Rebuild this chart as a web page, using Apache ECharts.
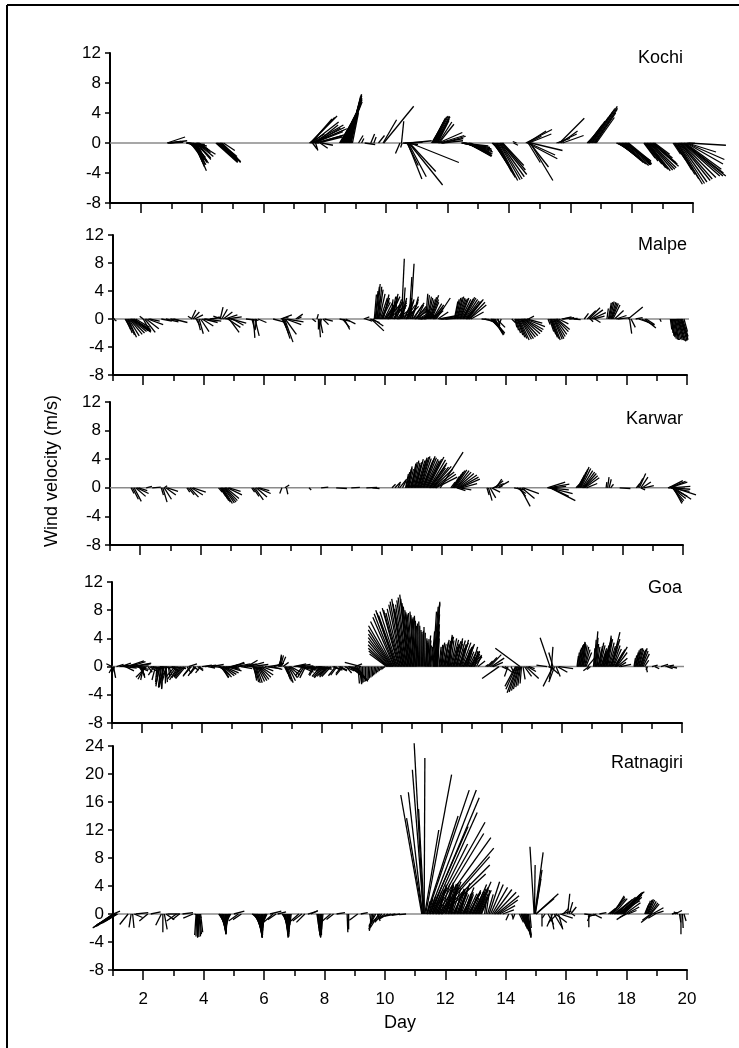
<!DOCTYPE html>
<html>
<head>
<meta charset="utf-8">
<script src="https://cdn.jsdelivr.net/npm/echarts@6/dist/echarts.min.js"></script>
<style>html,body{margin:0;padding:0;background:#fff}#c{width:739px;height:1048px}</style>
</head>
<body>
<div id="c"></div>
<script>
// ---- data: each stick = [day, u (east, m/s), v (north, m/s)] ----
const stations = ['Kochi', 'Malpe', 'Karwar', 'Goa', 'Ratnagiri'];
const evenDays = [2, 4, 6, 8, 10, 12, 14, 16, 18, 20];
const oddDays = [1, 3, 5, 7, 9, 11, 13, 15, 17, 19];

const kochi = [
[2.86,2.4,0.8],[2.88,2.6,0.3],[2.9,2.0,0.1],[2.95,1.5,0.2],
[3.48,2.5,-0.2],[3.5,2.3,-0.5],[3.52,2.6,-0.4],[3.55,2.2,-0.7],[3.57,1.9,-1.0],[3.58,1.6,-1.2],[3.6,1.8,-1.6],[3.62,2.0,-1.9],[3.63,1.5,-2.0],[3.66,1.7,-2.3],[3.68,1.4,-2.1],[3.7,1.9,-2.6],[3.71,1.7,-2.9],[3.72,1.2,-2.5],[3.74,1.4,-3.2],[3.75,1.6,-3.7],[3.77,1.8,-2.7],[3.78,1.3,-2.9],[3.79,1.5,-2.4],[3.8,2.0,-2.2],[3.82,1.9,-2.0],[3.83,2.2,-1.8],[3.85,2.4,-1.5],[3.86,1.7,-1.3],[3.88,1.5,-1.0],[3.9,1.2,-0.8],
[4.45,2.9,-2.6],[4.48,2.8,-2.5],[4.5,2.7,-2.4],[4.52,2.6,-2.3],[4.55,2.4,-2.1],[4.58,2.3,-2.0],[4.6,2.2,-1.8],[4.62,2.6,-2.6],[4.65,2.5,-2.5],[4.7,1.5,-1.0],
[7.5,2.0,1.2],[7.52,3.6,3.6],[7.54,3.2,3.4],[7.55,2.8,3.2],[7.57,3.6,2.8],[7.58,4.2,2.4],[7.6,4.3,2.1],[7.62,4.5,1.9],[7.64,4.0,1.7],[7.66,3.8,1.5],[7.68,3.4,2.0],[7.7,3.0,2.4],[7.72,3.6,1.0],[7.74,4.0,1.2],[7.78,3.2,0.8],[7.6,0.6,-0.8],[7.7,0.3,-1.0],[7.85,1.0,-0.7],[7.9,1.5,-0.3],
[8.48,1.2,2.0],[8.5,1.4,2.5],[8.52,1.6,3.0],[8.54,1.7,3.4],[8.56,1.8,3.8],[8.58,1.9,4.1],[8.6,2.0,4.4],[8.62,2.0,4.7],[8.64,2.1,5.0],[8.66,2.1,5.2],[8.68,2.2,5.5],[8.7,2.1,5.8],[8.72,2.0,6.0],[8.74,1.9,6.3],[8.76,1.8,6.5],[8.78,1.7,6.4],[8.8,1.5,6.2],[8.82,1.4,5.7],[8.84,1.2,5.2],[8.86,1.0,4.6],[8.9,0.8,4.0],
[9.1,0.6,1.0],[9.2,0.3,0.6],[9.3,1.4,-0.2],[9.5,0.5,1.2],[9.6,0.3,0.8],[9.75,0.8,1.0],
[9.9,1.8,3.1],[9.92,4.0,4.9],
[10.45,-0.6,-1.4],[10.5,0.3,2.9],[10.52,-0.2,-0.6],[10.55,2.0,-0.2],[10.6,2.4,0.1],
[10.68,1.5,-3.0],[10.7,1.9,-4.8],[10.72,2.4,-4.5],[10.74,4.5,-5.6],[10.76,3.5,-3.8],[10.78,6.5,-2.6],[10.8,2.8,0.3],
[11.48,1.2,2.0],[11.5,1.3,2.4],[11.52,1.4,2.8],[11.54,1.5,3.1],[11.56,1.5,3.3],[11.58,1.6,3.5],[11.6,1.7,3.6],[11.62,1.8,3.6],[11.64,1.8,3.5],[11.66,1.6,3.2],[11.68,1.5,3.0],[11.7,1.8,2.8],[11.72,2.0,2.5],
[11.7,3.2,1.4],[11.74,3.3,1.0],[11.78,3.0,0.6],[11.82,2.8,0.3],[11.86,3.0,0.9],
[12.45,3.6,-0.4],[12.48,3.7,-0.6],[12.5,3.8,-0.8],[12.52,3.8,-1.0],[12.55,3.8,-1.2],[12.58,3.6,-1.4],[12.6,3.5,-1.5],[12.62,3.4,-1.7],[12.65,3.2,-1.8],[12.68,3.0,-1.7],[12.7,2.9,-1.6],[12.72,2.7,-1.4],[12.75,2.5,-1.2],
[13.45,1.2,-1.0],[13.48,1.4,-1.8],[13.5,1.6,-2.4],[13.52,1.8,-2.9],[13.55,2.0,-3.4],[13.58,2.1,-3.9],[13.6,2.3,-4.3],[13.62,2.4,-4.6],[13.65,2.6,-5.0],[13.68,2.8,-4.9],[13.7,3.0,-4.8],[13.72,3.2,-4.5],[13.75,3.4,-4.2],[13.78,3.1,-3.6],[13.8,2.8,-3.0],
[14.15,0.6,-0.3],[14.25,-0.5,0.2],
[14.55,3.5,1.8],[14.6,2.5,1.6],[14.65,3.0,1.2],[14.62,1.8,0.9],[14.6,4.0,-2.1],[14.65,3.5,-1.6],[14.7,3.0,-5.0],[14.68,2.5,-3.2],[14.72,4.2,-1.0],[14.63,1.6,-2.6],
[15.55,1.8,0.6],[15.6,2.5,1.2],[15.65,3.3,3.3],[15.7,2.2,1.6],[15.75,2.8,1.0],
[16.55,1.0,1.0],[16.58,1.4,1.7],[16.6,1.8,2.4],[16.62,2.1,2.9],[16.65,2.4,3.4],[16.68,2.6,3.8],[16.7,2.8,4.2],[16.72,3.0,4.6],[16.75,3.2,4.9],[16.78,3.1,4.7],[16.8,3.0,4.5],[16.82,2.7,4.0],[16.85,2.4,3.4],
[17.5,1.0,-0.4],[17.52,1.5,-0.8],[17.55,2.0,-1.3],[17.58,2.3,-1.7],[17.6,2.6,-2.0],[17.62,2.8,-2.3],[17.65,3.0,-2.6],[17.68,3.2,-2.8],[17.7,3.5,-3.0],[17.72,3.6,-2.9],[17.75,3.7,-2.8],[17.78,3.5,-2.6],[17.8,3.4,-2.4],[17.82,3.3,-2.7],[17.85,3.2,-2.9],[17.88,3.0,-2.6],[17.9,2.8,-2.3],
[18.4,1.5,-2.0],[18.42,1.8,-2.4],[18.45,2.2,-2.8],[18.48,2.4,-3.0],[18.5,2.5,-3.3],[18.52,2.7,-3.5],[18.55,2.9,-3.7],[18.58,3.1,-3.6],[18.6,3.3,-3.5],[18.62,3.4,-3.3],[18.65,3.6,-3.1],[18.68,3.3,-2.8],[18.7,3.0,-2.6],[18.72,2.5,-2.0],[18.75,2.0,-1.5],
[19.35,1.0,-1.5],[19.38,1.5,-2.2],[19.4,2.0,-3.0],[19.42,2.2,-3.6],[19.45,2.5,-4.2],[19.48,2.9,-4.8],[19.5,3.3,-5.5],[19.52,3.5,-5.4],[19.55,3.7,-5.2],[19.58,4.0,-5.0],[19.6,4.2,-4.8],[19.62,4.6,-4.6],[19.65,5.0,-4.4],[19.68,5.3,-4.4],[19.7,5.6,-4.4],[19.72,5.2,-4.0],[19.75,4.8,-3.5],[19.78,4.9,-2.8],[19.8,5.0,-2.2],[19.82,3.8,-1.2],[19.85,5.0,-0.3]
];

const malpe = [
[1.02,0.4,-0.3],[1.05,-0.3,0.2],
[1.4,0.6,-1.0],[1.42,0.7,-1.5],[1.45,0.8,-2.0],[1.48,1.0,-2.3],[1.5,1.2,-2.6],[1.52,1.5,-2.4],[1.55,1.8,-2.2],[1.58,2.0,-2.0],[1.6,2.2,-1.8],[1.62,2.4,-1.7],[1.65,2.6,-1.5],[1.68,2.5,-1.7],[1.7,2.4,-1.9],[1.75,2.0,-1.2],
[2.0,1.0,-1.8],[2.05,1.5,-1.9],[2.1,1.8,-1.4],[2.15,2.2,-0.8],[2.0,-0.5,0.4],[2.2,1.5,-0.3],
[2.6,1.5,-0.3],[2.75,1.8,-0.4],[2.9,1.2,-0.2],[3.0,2.0,-0.5],
[3.6,0.6,1.3],[3.65,0.9,1.0],[3.7,1.2,0.6],[3.62,-0.6,0.4],[3.75,0.5,-0.9],[3.8,0.4,-1.6],[3.85,0.6,-2.1],[3.9,1.2,-1.8],[3.95,1.6,-1.0],[4.0,2.0,-0.5],[4.05,2.3,-0.3],
[4.2,1.5,0.2],[4.3,1.0,0.3],
[4.55,0.4,1.7],[4.6,0.8,1.4],[4.65,1.3,1.0],[4.7,1.8,0.6],[4.75,2.2,0.3],[4.6,-1.2,0.4],[4.8,1.8,-1.2],[4.85,1.4,-1.9],[4.9,2.2,-0.6],[4.95,1.6,-0.9],
[5.4,1.8,-0.2],[5.6,0.4,-1.5],[5.65,0.2,-2.7],[5.7,0.6,-2.4],[5.75,-0.2,-1.6],[5.8,1.2,-0.5],
[6.3,1.5,-0.4],[6.55,1.6,0.6],[6.58,1.0,0.3],[6.6,0.6,-1.2],[6.62,0.8,-2.0],[6.65,0.9,-2.8],[6.68,1.2,-3.3],[6.7,1.6,-2.2],[6.72,2.2,-0.8],[6.75,2.4,-0.4],
[7.05,1.0,0.7],[7.1,0.6,0.3],
[7.6,0.5,-0.4],[7.75,0.2,0.7],[7.8,0.0,-1.5],[7.82,0.2,-2.6],[7.85,0.4,-2.0],[7.9,-0.3,-1.2],[7.95,0.8,-0.8],[8.0,1.2,-0.3],
[8.5,1.5,-0.3],[8.6,1.0,-1.2],[8.65,0.8,-1.5],[8.7,1.4,-0.7],
[9.3,0.8,0.3],[9.35,1.0,-0.3],
[9.5,1.4,-0.5],[9.55,1.8,-1.7],[9.6,1.5,-1.0],
[9.65,0.3,3.5],[9.68,0.4,4.0],[9.7,0.5,4.6],[9.72,0.6,3.2],[9.75,0.4,5.0],[9.78,0.5,4.6],[9.8,0.6,4.2],[9.82,0.8,3.6],[9.85,1.0,3.0],[9.88,1.1,2.6],[9.9,1.2,2.4],[9.92,1.0,3.0],[9.95,0.8,3.5],[9.98,1.2,2.4],[10.0,1.3,2.0],[10.02,1.5,2.2],[10.05,1.6,2.6],[10.08,1.8,2.0],[10.1,2.0,1.5],[10.12,1.2,2.8],[10.15,1.5,3.2],[10.18,1.0,3.0],[10.2,0.3,2.8],[10.22,0.6,3.2],[10.25,0.8,3.6],[10.28,1.4,2.6],[10.3,1.8,2.3],[10.32,1.0,2.8],[10.35,0.2,3.2],[10.38,0.8,2.4],[10.4,1.2,1.6],[10.42,1.8,1.4],[10.45,2.4,1.2],[10.48,1.0,2.0],[10.5,0.5,2.4],[10.52,0.8,2.6],[10.55,0.4,8.6],[10.58,0.6,3.0],[10.6,0.3,4.5],[10.62,1.2,2.2],[10.65,1.0,2.5],[10.68,1.4,2.0],[10.7,1.8,1.8],[10.72,1.0,2.6],[10.75,0.6,3.0],[10.78,0.8,2.8],[10.8,0.4,6.0],[10.82,1.2,2.4],[10.85,0.5,7.9],[10.88,1.0,2.8],[10.9,0.9,3.2],[10.92,1.4,2.0],[10.95,1.5,2.3],[10.98,1.8,1.6],[11.0,2.2,1.4],[11.02,1.5,1.8],[11.05,1.0,2.0],[11.08,1.4,1.4],[11.1,1.8,1.0],[11.12,2.0,0.8],[11.15,2.5,0.6],[11.2,2.0,0.4],[11.25,1.2,0.8],[11.3,1.5,0.3],
[11.35,0.3,3.6],[11.38,0.4,3.4],[11.4,0.6,3.2],[11.42,0.7,3.0],[11.45,0.8,2.8],[11.48,1.0,3.1],[11.5,1.2,3.4],[11.52,1.1,2.8],[11.55,1.0,2.4],[11.58,1.3,2.2],[11.6,1.5,2.0],[11.62,1.4,1.6],[11.65,1.2,1.2],[11.7,2.0,3.0],[11.75,1.5,1.0],[11.8,2.6,0.5],[11.85,2.0,0.3],[11.9,2.2,0.2],[12.0,1.5,0.1],
[12.3,0.5,2.5],[12.32,0.6,2.8],[12.35,0.7,3.0],[12.38,0.8,3.1],[12.4,0.9,3.2],[12.42,1.0,3.0],[12.45,1.0,2.8],[12.48,1.1,2.9],[12.5,1.2,3.0],[12.52,1.4,2.8],[12.55,1.5,2.6],[12.58,1.5,2.9],[12.6,1.6,3.1],[12.62,1.7,3.0],[12.65,1.8,2.8],[12.68,1.9,2.6],[12.7,2.0,2.4],[12.72,2.1,2.6],[12.75,2.2,2.8],[12.78,2.3,2.4],[12.8,2.4,2.0],[12.85,1.8,1.0],
[13.2,1.0,-0.1],[13.3,1.5,-0.4],[13.4,1.8,-0.9],[13.5,1.5,-1.5],[13.52,1.6,-1.8],[13.55,1.8,-2.0],[13.58,1.6,-2.2],[13.6,1.4,-2.3],[13.62,1.2,-2.0],[13.65,1.0,-1.8],[13.7,1.2,-1.2],[13.75,0.2,-1.0],[13.85,-0.3,-0.8],
[14.2,0.5,-0.5],[14.3,0.3,-1.2],[14.32,0.45,-1.6],[14.35,0.6,-2.0],[14.38,0.8,-2.3],[14.4,1.0,-2.6],[14.42,1.2,-2.8],[14.45,1.4,-3.0],[14.48,1.6,-2.9],[14.5,1.8,-2.8],[14.52,2.0,-2.6],[14.55,2.2,-2.4],[14.58,2.4,-2.1],[14.6,2.6,-1.8],[14.62,2.7,-1.5],[14.65,2.8,-1.1],[14.7,2.2,-0.6],[14.75,0.8,0.4],
[15.4,0.3,-0.8],[15.45,0.6,-1.8],[15.48,0.75,-2.2],[15.5,0.9,-2.6],[15.52,1.0,-2.8],[15.55,1.1,-3.0],[15.58,1.25,-2.9],[15.6,1.4,-2.8],[15.62,1.5,-2.5],[15.65,1.6,-2.2],[15.68,1.7,-1.8],[15.7,1.8,-1.5],[15.75,1.4,-0.7],[15.85,1.8,0.2],[15.9,1.2,0.3],
[16.1,1.2,0.1],[16.25,1.0,-0.1],
[16.6,0.6,0.8],[16.7,1.2,1.2],[16.75,1.6,1.6],[16.8,1.8,1.3],[16.85,2.0,0.9],[16.9,1.6,0.4],[16.95,0.8,-0.5],[16.8,0.4,-0.4],
[17.35,0.2,1.5],[17.4,0.4,2.3],[17.42,0.5,2.4],[17.45,0.6,2.5],[17.48,0.7,2.4],[17.5,0.8,2.3],[17.52,0.9,2.2],[17.55,1.0,2.0],[17.6,1.3,1.2],[17.65,1.5,0.5],[17.7,1.8,0.2],
[18.05,2.1,1.7],[18.1,0.3,-2.1],[18.15,0.6,-1.2],[18.3,1.0,0.2],[18.4,1.5,-0.5],[18.5,1.8,-0.9],[18.6,1.6,-1.3],[18.65,1.2,-0.8],
[19.1,0.2,-0.4],
[19.45,0.2,-1.5],[19.48,0.25,-2.0],[19.5,0.3,-2.4],[19.52,0.35,-2.6],[19.55,0.4,-2.8],[19.58,0.45,-2.9],[19.6,0.5,-3.0],[19.62,0.55,-3.0],[19.65,0.6,-2.9],[19.68,0.7,-3.0],[19.7,0.8,-3.0],[19.72,0.85,-3.1],[19.75,0.9,-3.2],[19.78,0.95,-3.1],[19.8,1.0,-3.0],[19.82,0.9,-2.8],[19.85,0.8,-2.5],[19.9,0.5,-1.8]
];

const karwar = [
[1.7,0.4,-0.8],[1.75,0.8,-1.6],[1.8,1.0,-1.9],[1.85,1.4,-1.2],[1.9,1.6,-0.8],[1.95,1.2,-0.4],
[2.2,0.8,0.2],[2.4,1.2,0.1],
[2.7,0.3,-1.0],[2.75,0.6,-2.0],[2.8,1.0,-1.6],[2.85,1.4,-1.0],[2.9,1.5,-0.5],[2.8,0.4,0.3],
[3.55,0.4,-0.6],[3.6,0.8,-1.0],[3.65,1.2,-1.3],[3.7,1.6,-1.0],[3.75,1.8,-0.6],
[4.6,0.5,-0.6],[4.65,0.8,-1.2],[4.68,0.9,-1.5],[4.7,1.0,-1.8],[4.72,1.15,-2.0],[4.75,1.3,-2.2],[4.78,1.45,-2.1],[4.8,1.6,-2.0],[4.82,1.7,-1.8],[4.85,1.8,-1.5],[4.9,2.0,-1.0],[4.95,1.6,-0.5],
[5.7,0.4,-0.6],[5.75,0.8,-1.2],[5.8,1.2,-1.7],[5.85,1.5,-1.3],[5.9,1.8,-0.8],[5.95,1.4,-0.4],
[6.7,-0.3,-0.8],[6.8,0.6,0.4],[6.85,0.2,-0.9],
[7.6,0.3,-0.3],[8.0,1.0,0.1],[8.5,1.5,-0.1],[9.0,1.2,0.05],[9.5,1.5,0.05],[9.7,1.0,-0.1],
[10.35,0.5,0.5],[10.45,0.8,0.8],[10.55,0.3,0.6],[10.6,1.0,1.2],[10.7,0.5,1.0],[10.8,0.4,1.9],[10.82,0.5,2.2],[10.85,0.6,2.6],[10.88,0.55,2.8],[10.9,0.5,3.0],[10.92,0.6,2.6],[10.95,0.7,2.2],[10.98,0.65,3.0],[11.0,0.6,3.4],[11.02,0.7,3.6],[11.05,0.8,3.8],[11.08,0.85,3.5],[11.1,0.9,3.2],[11.12,0.95,3.6],[11.15,1.0,4.0],[11.18,1.1,3.8],[11.2,1.2,3.6],[11.22,1.15,3.9],[11.25,1.1,4.2],[11.28,1.2,4.3],[11.3,1.3,4.4],[11.32,1.4,4.1],[11.35,1.5,3.8],[11.38,1.55,4.1],[11.4,1.6,4.4],[11.42,1.7,4.2],[11.45,1.8,4.0],[11.48,1.85,3.8],[11.5,1.9,3.6],[11.52,2.0,4.0],[11.55,2.2,4.3],[11.58,2.3,3.9],[11.6,2.4,3.5],[11.62,2.2,3.2],[11.65,2.0,2.8],[11.68,2.3,2.9],[11.7,2.6,3.0],[11.72,2.7,2.6],[11.75,2.8,2.2],[11.78,2.9,1.9],[11.8,3.0,1.5],[11.95,3.2,5.0],
[12.3,0.6,0.8],[12.35,1.0,1.6],[12.38,1.15,1.9],[12.4,1.3,2.2],[12.42,1.45,2.4],[12.45,1.6,2.5],[12.48,1.8,2.4],[12.5,2.0,2.2],[12.52,2.3,2.0],[12.55,2.6,1.8],[12.58,2.7,1.5],[12.6,2.8,1.2],[12.65,2.2,0.6],[12.5,1.2,-0.4],[12.6,1.6,-0.3],
[13.5,0.3,-1.0],[13.55,0.5,-1.8],[13.6,0.8,-1.4],[13.65,1.2,-0.6],[13.7,1.5,0.6],[13.75,1.2,1.0],[13.8,0.8,1.2],[13.85,1.6,0.9],[13.9,0.5,0.3],
[14.4,1.5,-0.3],[14.5,1.2,-0.8],[14.55,1.0,-1.2],[14.6,1.4,-2.6],[14.65,1.8,-1.5],[14.7,2.2,-0.8],
[15.5,2.5,0.8],[15.52,3.0,0.5],[15.55,2.8,-0.3],[15.58,3.2,-0.8],[15.6,3.5,-1.8],[15.62,2.5,-1.2],[15.65,2.0,0.2],
[16.45,0.5,0.5],[16.5,0.8,1.4],[16.52,0.9,1.8],[16.55,1.0,2.2],[16.58,1.1,2.6],[16.6,1.2,2.9],[16.62,1.35,2.7],[16.65,1.5,2.4],[16.68,1.65,2.2],[16.7,1.8,2.0],[16.72,1.9,1.7],[16.75,2.0,1.4],[16.8,1.5,0.6],
[17.45,0.1,0.8],[17.5,0.2,1.5],[17.55,0.3,1.2],[17.6,0.4,0.5],[17.9,1.5,-0.1],
[18.45,0.5,0.6],[18.5,0.7,1.3],[18.55,0.9,2.0],[18.6,1.0,1.5],[18.65,1.2,0.8],[18.7,1.4,0.3],[18.6,0.6,-0.3],
[19.5,1.2,0.3],[19.52,2.0,1.0],[19.54,2.3,0.9],[19.55,2.5,0.8],[19.58,2.8,0.2],[19.6,2.6,-0.5],[19.6,2.7,-0.2],[19.62,2.2,-1.2],[19.64,1.9,-1.5],[19.65,1.6,-1.8],[19.66,1.4,-2.0],[19.68,1.2,-2.2],[19.7,2.4,-1.6],[19.72,3.0,-1.0]
];

const goa = [
[1.0,-0.8,0.4],[1.02,-0.5,-0.9],[1.05,0.3,-1.6],[1.08,-0.4,-1.2],[1.15,1.0,0.3],[1.25,1.2,0.2],
[1.3,1.4,0.5],[1.35,2.0,0.3],[1.4,1.8,-0.2],[1.45,1.2,-0.6],[1.5,2.4,0.8],[1.65,2.8,0.5],[1.8,1.8,-0.4],[1.95,0.6,-1.4],[2.05,-0.4,-1.9],[2.25,1.0,-0.6],[2.35,1.6,-0.3],[2.4,-0.8,-1.2],[2.45,-0.5,-1.9],[2.5,-0.2,-2.2],
[1.6,2.2,0.7],[1.7,2.5,0.4],[1.75,2.0,0.1],[1.85,1.5,-0.6],[1.9,0.8,-1.2],[2.0,0.4,-1.6],[2.1,-1.0,-1.8],[2.15,-1.5,-1.5],[2.2,0.6,-0.8],[2.3,1.2,-0.4],
[2.55,-0.3,-1.5],[2.58,-0.5,-2.8],[2.6,-0.6,-2.5],[2.62,-0.3,-2.9],[2.65,-0.4,-3.0],[2.68,-0.1,-3.1],[2.7,-0.2,-3.2],[2.72,-0.6,-2.9],[2.75,-0.8,-2.6],[2.78,0.0,-2.4],[2.8,0.2,-2.2],[2.82,-0.6,-2.0],[2.85,-1.0,-1.8],[2.88,0.2,-1.5],[2.9,0.4,-1.2],[2.95,1.2,-0.6],[3.0,2.0,-0.3],[2.6,2.2,-0.2],
[3.1,-1.4,-1.6],[3.15,-1.3,-1.8],[3.2,-1.2,-1.9],[3.25,-1.1,-1.6],[3.3,-1.0,-1.4],[3.35,-1.2,-1.5],[3.4,-1.3,-1.6],[3.45,-1.4,-1.7],[3.5,0.5,-0.8],[3.55,1.2,0.4],[3.6,-1.0,-1.4],[3.65,-1.1,-1.2],[3.7,0.8,-0.5],[3.75,-0.9,-1.3],[3.8,-0.8,-1.0],[3.85,0.8,-0.6],[3.9,0.6,-0.4],[3.95,-0.7,-0.9],
[4.0,1.4,0.2],[4.1,1.6,0.2],[4.2,1.0,-0.2],[4.3,1.8,0.3],[4.4,2.0,-0.2],
[4.55,1.0,-0.5],[4.58,1.2,-0.9],[4.6,1.4,-1.2],[4.62,1.2,-1.5],[4.65,1.0,-1.6],[4.68,1.3,-1.5],[4.7,1.6,-1.3],[4.72,1.8,-1.1],[4.75,2.0,-0.9],[4.8,2.2,-0.6],[4.85,1.8,-0.4],[4.9,1.4,-0.2],[4.95,1.2,0.3],[5.0,1.8,0.5],[5.05,1.5,0.6],[5.1,2.2,0.4],[5.2,2.0,0.2],[5.3,1.6,-0.3],[5.4,1.8,0.4],
[5.5,1.5,0.9],[5.55,2.2,0.6],[5.6,2.6,0.3],[5.65,1.4,-0.4],[5.7,0.5,-1.2],[5.72,0.4,-1.6],[5.75,0.3,-2.0],[5.78,0.45,-2.2],[5.8,0.6,-2.3],[5.82,0.8,-2.3],[5.85,1.0,-2.1],[5.88,1.2,-2.0],[5.9,1.4,-1.8],[5.92,1.6,-1.5],[5.95,1.8,-1.2],[6.0,1.6,-0.6],[6.1,2.2,-0.3],[6.2,2.0,0.3],[6.3,1.6,-0.4],[6.4,1.4,0.5],
[6.55,0.4,1.2],[6.58,0.3,1.5],[6.6,0.2,1.7],[6.62,0.4,1.6],[6.65,0.6,1.4],[6.7,0.8,0.6],[6.75,0.5,-1.0],[6.78,0.55,-1.4],[6.8,0.6,-1.8],[6.82,0.7,-2.1],[6.85,0.8,-2.3],[6.88,1.0,-2.0],[6.9,1.2,-1.6],[6.92,1.4,-1.2],[6.95,1.5,-0.8],
[7.05,1.8,0.4],[7.1,2.2,0.3],[7.15,2.4,0.1],[7.2,2.5,-0.3],[7.25,2.2,-0.5],[7.3,1.8,-0.8],[7.35,-1.0,-1.3],[7.4,-0.9,-1.5],[7.45,-0.8,-1.6],[7.5,1.6,-0.6],[7.55,1.8,-0.5],[7.6,2.0,-0.4],[7.65,2.2,-0.3],[7.7,-0.6,-1.2],[7.75,-0.7,-1.3],[7.8,1.4,-0.5],[7.85,2.0,-0.2],[7.9,1.8,-0.4],
[7.95,-1.2,-1.4],[8.0,-1.2,-1.5],[8.05,-1.3,-1.6],[8.1,-1.1,-1.4],[8.15,-1.0,-1.2],[8.2,-1.2,-1.3],[8.25,-1.4,-1.5],[8.3,-1.3,-1.4],[8.35,1.0,-0.4],[8.4,1.2,-0.5],[8.45,-1.0,-1.3],[8.5,-0.9,-1.2],[8.55,1.2,-0.6],[8.6,1.0,-0.5],[8.65,-0.8,-1.0],[8.7,-1.0,-1.2],[8.75,1.4,-0.6],[8.8,0.8,-0.9],[8.85,1.6,-0.4],
[8.9,1.2,-0.8],[8.95,1.4,-1.2],[9.0,1.6,-1.5],[9.05,1.7,-1.8],[9.1,1.8,-2.0],[9.15,1.6,-2.1],[9.1,1.0,0.4],[9.3,-2.3,0.6],
[9.2,0.2,-2.4],[9.25,0.3,-2.5],[9.3,0.1,-2.4],[9.35,0.05,-2.3],[9.4,0.0,-2.2],[9.45,0.0,-2.1],[9.5,0.0,-2.0],[9.55,-0.05,-1.9],[9.6,-0.1,-1.7],[9.65,-0.1,-1.55],[9.7,-0.1,-1.4],[9.75,-0.15,-1.25],[9.8,-0.2,-1.1],[9.85,-0.2,-0.95],[9.9,-0.2,-0.8],[9.95,-0.2,-0.65],[10.0,-0.2,-0.5],[10.05,-0.25,-0.4],[10.1,-0.3,-0.25],
[10.15,-2.4,1.8],[10.17,-2.6,2.2],[10.2,-2.8,2.6],[10.22,-2.9,3.1],[10.25,-3.0,3.6],[10.27,-3.1,4.1],[10.3,-3.2,4.6],[10.32,-3.3,5.2],[10.35,-3.4,5.8],[10.37,-3.2,6.4],[10.4,-3.0,7.0],[10.42,-2.9,7.5],[10.45,-2.8,8.0],[10.47,-2.7,7.6],[10.5,-2.6,7.2],[10.52,-2.5,7.8],[10.55,-2.3,8.3],[10.57,-2.2,8.0],[10.6,-2.0,7.6],[10.62,-1.9,8.2],[10.65,-1.8,8.8],[10.67,-1.7,9.2],[10.7,-1.6,9.6],[10.72,-1.5,8.9],[10.75,-1.4,8.2],[10.77,-1.35,8.8],[10.8,-1.3,9.4],[10.82,-1.2,9.8],[10.85,-1.1,10.2],[10.87,-1.05,9.6],[10.9,-1.0,9.0],[10.92,-0.9,8.5],[10.95,-0.8,8.0],[10.97,-0.75,7.7],[11.0,-0.7,7.4],[11.02,-0.6,7.6],[11.05,-0.5,7.8],[11.07,-0.45,7.3],[11.1,-0.4,6.8],[11.12,-0.35,7.0],[11.15,-0.3,7.2],[11.17,-0.25,6.5],[11.2,-0.2,5.8],[11.22,-0.15,6.1],[11.25,-0.1,6.4],[11.27,-0.05,5.8],[11.3,0.0,5.2],[11.32,0.05,4.9],[11.35,0.1,4.6],[11.37,0.05,5.1],[11.4,0.0,5.6],[11.42,0.1,4.8],[11.45,0.2,4.0],[11.47,0.15,3.7],[11.5,0.1,3.4],[11.52,0.2,3.9],[11.55,0.3,4.4],[11.57,0.25,3.7],[11.6,0.2,3.0],[11.62,0.3,2.8],
[11.66,0.4,5.0],[11.7,0.5,7.8],[11.72,0.65,8.5],[11.74,0.8,9.2],[11.76,0.7,9.0],[11.78,0.6,8.8],[11.8,0.5,7.4],[11.82,0.4,6.0],[11.84,0.3,5.0],[11.86,0.2,4.0],
[11.9,0.3,2.8],[11.92,0.45,3.1],[11.95,0.6,3.4],[11.97,0.4,3.0],[12.0,0.2,2.6],[12.02,0.5,3.2],[12.05,0.8,3.8],[12.07,0.6,3.4],[12.1,0.4,3.0],[12.12,0.7,3.6],[12.15,1.0,4.2],[12.17,0.8,4.3],[12.2,0.6,4.5],[12.22,0.45,4.0],[12.25,0.3,3.4],[12.27,0.55,3.7],[12.3,0.8,4.0],[12.32,1.0,3.8],[12.35,1.2,3.6],[12.37,0.85,3.2],[12.4,0.5,2.8],[12.42,0.75,3.0],[12.45,1.0,3.2],[12.47,0.9,3.6],[12.5,0.8,4.0],[12.52,1.1,3.7],[12.55,1.4,3.4],[12.57,1.0,3.0],[12.6,0.6,2.6],[12.62,0.8,3.2],[12.65,1.0,3.8],[12.67,1.25,3.4],[12.7,1.5,3.0],[12.72,1.15,2.7],[12.75,0.8,2.4],[12.77,1.0,2.8],[12.8,1.2,3.2],[12.82,0.9,2.7],[12.85,0.6,2.2],[12.87,0.8,2.1],[12.9,1.0,2.0],[12.92,1.3,1.8],[12.95,1.6,1.6],[12.97,1.2,2.2],[13.0,0.8,2.8],[13.02,1.0,2.1],[13.05,1.2,1.4],[13.07,0.8,1.8],[13.1,0.4,2.2],[13.15,0.7,1.5],[13.2,1.0,0.8],
[13.45,0.4,0.3],[13.5,0.8,0.8],[13.55,1.2,1.3],[13.6,1.6,1.7],[13.65,1.8,1.2],[13.7,1.4,0.6],
[13.9,-2.4,-1.7],[14.0,0.8,-0.4],[14.1,1.0,-0.8],[14.2,-0.5,-1.4],[14.3,0.5,-1.0],[14.6,-3.5,2.6],[14.45,-1.5,-2.8],[14.47,-1.45,-3.2],[14.5,-1.4,-3.7],[14.52,-1.2,-3.6],[14.55,-1.0,-3.4],[14.57,-0.8,-3.2],[14.6,-0.6,-2.9],[14.62,-0.4,-2.7],[14.65,-0.2,-2.4],[14.7,0.3,-1.8],[14.75,1.0,-1.4],[14.8,1.8,-1.7],[14.85,1.2,-0.7],[14.9,0.8,-0.3],
[15.5,-1.5,0.2],[15.55,0.8,-0.4],[15.6,-1.4,4.1],[15.65,0.2,2.8],[15.7,-0.6,2.0],[15.6,1.2,-1.0],[15.65,-0.3,-1.8],[15.7,-1.4,-2.8],[15.75,-0.8,-2.2],[15.8,0.6,-1.4],[15.85,1.4,-0.8],[15.9,2.0,-0.3],
[16.5,0.2,1.5],[16.52,0.25,2.0],[16.55,0.3,2.4],[16.57,0.35,2.7],[16.6,0.4,3.0],[16.62,0.45,3.2],[16.65,0.5,3.5],[16.67,0.45,3.4],[16.7,0.4,3.2],[16.72,0.5,3.0],[16.75,0.6,2.8],[16.77,0.7,2.4],[16.8,0.8,2.0],[16.85,1.0,1.2],[16.9,-0.8,-0.6],[16.95,-0.5,-0.4],
[17.05,0.2,2.6],[17.07,0.3,3.8],[17.1,0.4,5.0],[17.12,0.35,4.1],[17.15,0.3,3.2],[17.17,0.4,2.8],[17.2,0.5,2.4],[17.22,0.55,2.9],[17.25,0.6,3.4],[17.27,0.7,3.0],[17.3,0.8,2.6],[17.32,0.65,2.2],[17.35,0.5,1.8],[17.37,0.6,2.4],[17.4,0.7,3.0],[17.42,0.8,3.4],[17.45,0.9,3.8],[17.47,0.75,4.1],[17.5,0.6,4.4],[17.52,0.7,3.9],[17.55,0.8,3.4],[17.57,0.9,2.9],[17.6,1.0,2.4],[17.62,1.1,3.6],[17.65,1.2,4.9],[17.67,1.1,3.9],[17.7,1.0,3.0],[17.72,1.1,2.5],[17.75,1.2,2.0],[17.77,1.4,2.4],[17.8,1.6,2.8],[17.82,1.5,2.0],[17.85,1.4,1.2],[17.9,1.0,0.6],[17.95,1.5,0.3],
[18.4,0.2,1.2],[18.42,0.3,1.6],[18.45,0.4,2.0],[18.47,0.45,2.3],[18.5,0.5,2.5],[18.52,0.55,2.6],[18.55,0.6,2.6],[18.57,0.65,2.4],[18.6,0.7,2.2],[18.62,0.75,2.4],[18.65,0.8,2.6],[18.67,0.85,2.2],[18.7,0.9,1.8],[18.75,0.6,0.9],[18.8,0.2,-0.8],[18.85,-0.2,-0.5],
[19.0,0.8,0.2],[19.1,0.6,-0.3],[19.3,1.0,0.3],[19.45,1.2,0.2],[19.5,0.8,-0.3],[19.6,1.0,-0.2]
];

const ratnagiri = [
[1.0,-2.9,-2.0],[1.01,-2.8,-1.9],[1.02,-2.6,-1.8],[1.03,-2.4,-1.7],[1.04,-2.2,-1.5],[1.05,-2.0,-1.4],[1.06,-1.8,-1.2],[1.07,-1.6,-1.1],[1.08,-1.4,-1.0],[1.09,-1.2,-0.85],[1.1,-1.0,-0.7],[1.11,-2.7,-1.5],[1.12,-2.5,-1.4],[1.13,-2.8,-1.55],[1.14,-3.0,-1.6],[1.15,-2.2,-1.3],[1.0,1.0,0.4],
[1.5,-1.2,-1.5],[1.6,-0.3,-1.9],[1.65,0.2,-2.0],[1.7,1.2,-0.5],[1.75,1.8,0.2],
[2.15,-1.2,-1.0],[2.25,1.4,0.3],
[2.6,-0.8,-1.6],[2.65,0.0,-2.6],[2.7,0.4,-2.2],[2.75,1.2,-0.8],[2.8,1.8,0.0],
[3.1,-1.4,-1.0],[3.2,-1.0,-0.8],[3.3,1.5,0.2],
[3.65,-1.4,-0.6],[3.7,1.0,-0.5],[3.75,-0.2,-3.0],[3.77,-0.1,-3.2],[3.8,0.0,-3.4],[3.82,0.1,-3.3],[3.85,0.2,-3.2],[3.87,0.25,-2.9],[3.9,0.3,-2.6],
[4.5,0.9,-1.2],[4.52,0.85,-1.6],[4.55,0.8,-2.0],[4.57,0.7,-2.3],[4.6,0.6,-2.6],[4.62,0.5,-2.8],[4.65,0.4,-2.9],[4.67,0.3,-2.9],[4.7,0.2,-2.8],[4.72,0.1,-2.7],[4.75,0.0,-2.6],[4.77,-0.1,-2.3],[4.8,-0.2,-2.0],[4.82,-0.3,-1.7],[4.85,-0.4,-1.4],[4.87,-0.45,-1.1],[4.9,-0.5,-0.8],
[5.0,1.5,0.4],[5.15,-1.4,-1.0],[5.25,-1.2,-0.8],
[5.6,1.2,-0.6],[5.62,1.15,-1.0],[5.65,1.1,-1.4],[5.67,1.05,-1.8],[5.7,1.0,-2.2],[5.72,0.9,-2.5],[5.75,0.8,-2.8],[5.77,0.7,-3.0],[5.8,0.6,-3.2],[5.82,0.5,-3.3],[5.85,0.4,-3.4],[5.87,0.3,-3.4],[5.9,0.2,-3.3],[5.92,0.1,-3.2],[5.95,0.0,-3.0],[5.97,-0.1,-2.7],[6.0,-0.2,-2.4],[6.02,-0.3,-2.0],[6.05,-0.4,-1.6],[6.07,-0.4,-1.2],[6.1,-0.4,-0.8],[6.2,1.6,0.4],
[6.3,-1.4,-1.2],[6.4,-1.2,-0.8],[6.45,1.2,0.3],
[6.6,0.8,-1.0],[6.62,0.7,-1.5],[6.65,0.6,-2.0],[6.67,0.5,-2.4],[6.7,0.4,-2.8],[6.72,0.3,-3.1],[6.75,0.2,-3.4],[6.77,0.15,-3.3],[6.8,0.1,-3.2],[6.82,0.0,-2.9],[6.85,-0.1,-2.6],[6.87,-0.15,-2.1],[6.9,-0.2,-1.6],
[7.15,-1.6,-1.4],[7.25,-1.3,-1.0],[7.35,-1.2,-1.2],[7.45,1.4,0.4],[7.55,1.0,0.5],
[7.75,0.3,-2.0],[7.77,0.25,-2.5],[7.8,0.2,-3.0],[7.82,0.15,-3.2],[7.85,0.1,-3.4],[7.87,0.05,-3.2],[7.9,0.0,-3.0],[7.92,-0.1,-2.6],[7.95,-0.2,-2.2],
[8.2,-1.4,-1.2],[8.3,-1.0,-0.8],[8.4,1.2,0.2],
[8.75,0.1,-2.6],[8.8,0.0,-2.2],
[9.1,-1.2,-0.9],[9.2,1.0,0.2],
[9.5,0.2,-1.4],[9.55,-0.2,-2.0],[9.6,-0.5,-2.4],[9.65,-0.8,-2.2],[9.7,-1.0,-1.8],[9.75,0.4,-1.0],[9.8,-1.2,-1.9],[9.85,-1.6,-1.6],[9.9,-1.0,-1.2],[10.0,-1.4,-1.0],[10.1,-1.2,-0.7],[10.2,-1.6,-0.5],[10.35,-1.5,-0.3],[10.5,-1.2,-0.2],[10.7,-1.0,-0.1],
[11.22,-3.0,17.0],[11.24,-2.0,17.4],[11.25,-2.3,13.7],[11.27,-1.3,24.4],[11.28,-1.6,20.6],[11.3,0.1,22.3],[11.3,-0.8,15.0],
[11.32,2.0,12.0],[11.35,3.7,19.9],[11.38,4.5,14.0],[11.4,6.0,17.7],[11.45,6.8,17.7],[11.48,5.5,12.5],[11.5,7.0,16.6],[11.55,6.5,14.5],[11.58,5.0,10.0],[11.6,7.4,13.1],[11.65,7.0,11.5],[11.7,7.8,10.9],[11.75,8.0,9.4],[11.8,7.2,8.2],[11.85,7.0,7.0],[11.9,6.2,5.7],
[11.4,0.4,1.8],[11.45,0.6,2.2],[11.5,0.8,2.6],[11.55,1.0,2.9],[11.6,1.2,3.2],[11.65,1.35,3.5],[11.7,1.5,3.8],[11.75,1.25,4.0],[11.8,1.0,4.2],[11.85,1.3,4.3],[11.9,1.6,4.5],[11.95,1.4,4.2],[12.0,1.2,4.0],[12.02,1.5,4.3],[12.05,0.6,3.4],[12.08,1.2,3.8],[12.1,1.8,4.6],[12.12,1.3,4.4],[12.15,0.8,3.0],[12.18,0.9,3.6],[12.2,1.0,4.2],[12.22,1.3,3.7],[12.25,1.6,3.2],[12.28,1.5,3.4],[12.3,1.4,3.6],[12.32,1.0,3.1],[12.35,0.6,2.6],[12.38,1.2,3.5],[12.4,1.8,4.4],[12.42,1.5,3.7],[12.45,1.2,3.0],[12.48,1.0,3.1],[12.5,0.8,3.2],[12.52,1.1,2.8],[12.55,1.4,2.4],[12.58,1.5,3.1],[12.6,1.5,3.8],[12.62,1.0,2.9],[12.65,0.6,2.0],[12.68,0.8,2.4],[12.7,1.0,2.8],[12.72,1.4,2.9],[12.75,1.8,3.0],[12.78,1.7,3.2],[12.8,1.6,3.4],[12.82,1.2,2.9],[12.85,0.8,2.4],[12.88,1.0,2.3],[12.9,1.2,2.2],[12.92,1.5,3.2],[12.95,1.8,4.2],[12.98,1.6,3.6],[13.0,1.4,3.0],[13.02,1.7,3.8],[13.05,2.0,4.6],[13.08,1.5,3.5],[13.1,1.0,2.4],[13.12,1.3,2.9],[13.15,1.6,3.4],[13.18,1.1,2.5],[13.2,0.6,1.6],
[13.3,0.3,2.4],[13.35,0.5,3.4],[13.4,0.8,2.8],[13.45,1.5,4.6],[13.5,1.8,4.2],[13.55,2.2,3.8],[13.6,2.6,3.5],[13.65,3.0,3.1],[13.7,3.2,2.6],[13.75,2.8,2.0],[13.8,2.2,1.2],[13.9,1.6,0.6],
[14.1,-0.4,-0.9],[14.2,0.2,-0.6],[14.3,-0.3,-0.8],[14.45,0.6,-1.2],[14.5,0.8,-1.8],[14.52,0.85,-2.1],[14.55,0.9,-2.4],[14.57,0.95,-2.6],[14.6,1.0,-2.8],[14.62,0.9,-3.0],[14.65,0.8,-3.2],[14.67,0.7,-3.3],[14.7,0.6,-3.4],[14.72,0.5,-3.2],[14.75,0.4,-3.0],[14.8,0.2,-2.0],
[14.94,-0.6,9.6],[14.95,0.1,7.0],[14.96,1.2,8.8],[14.97,1.0,6.3],[14.98,0.8,5.0],[15.0,3.2,2.9],[15.0,2.6,2.2],
[15.2,0.0,-1.8],[15.3,-0.4,-0.6],[15.4,0.8,-1.5],[15.5,0.4,-2.2],[15.55,-0.8,-1.8],[15.6,1.2,-2.0],[15.65,1.6,-1.2],[15.7,-1.2,-1.2],[15.75,0.6,-2.2],[15.8,1.8,-0.6],[15.85,1.4,0.4],[15.9,0.8,0.8],
[16.05,0.3,2.9],[16.1,0.5,1.7],[16.15,0.8,1.0],[16.2,0.4,-0.3],
[16.6,1.5,-0.2],[16.75,0.0,-1.9],[16.8,-0.4,-1.0],[16.9,1.2,-0.6],[17.0,-1.2,-0.4],[17.1,1.0,0.2],
[17.4,1.0,0.8],[17.45,1.5,1.4],[17.5,2.0,2.2],[17.52,1.8,2.4],[17.55,1.6,2.6],[17.58,1.9,2.2],[17.6,2.2,1.8],[17.62,2.5,2.1],[17.65,2.8,2.4],[17.68,3.0,2.2],[17.7,3.2,1.9],[17.72,3.1,2.3],[17.75,3.0,2.8],[17.78,3.2,3.0],[17.8,3.4,3.2],[17.82,3.1,3.1],[17.85,2.8,3.0],[17.88,2.7,2.7],[17.9,2.6,2.4],[17.95,2.2,1.6],[18.0,1.8,1.0],[18.05,1.2,0.5],[17.95,-1.2,-0.8],[18.0,-1.0,-0.5],
[18.6,0.5,1.2],[18.62,0.55,1.5],[18.65,0.6,1.9],[18.68,0.7,2.0],[18.7,0.8,2.1],[18.72,0.9,2.0],[18.75,1.0,1.8],[18.78,1.1,1.6],[18.8,1.2,1.4],[18.85,1.6,0.9],[18.9,1.4,0.4],[18.8,-1.2,-0.9],[18.85,-1.6,-1.2],[18.95,-1.0,-0.6],
[19.5,0.8,0.2],[19.6,1.0,0.5],[19.7,-0.6,0.3],[19.75,0.2,-1.2],[19.8,0.0,-2.9],[19.85,0.1,-2.0],[19.9,0.3,-1.0]
];

const stationData = [kochi, malpe, karwar, goa, ratnagiri];
const yMaxes = [12, 12, 12, 12, 24];

// ---- layout ----
const grids = [
  {left: 110, top: 53, width: 583, height: 150},
  {left: 113, top: 235, width: 574, height: 140},
  {left: 110, top: 402, width: 573, height: 143},
  {left: 112, top: 582, width: 570, height: 141},
  {left: 113, top: 746, width: 574, height: 224}
];
const namePos = [[683, 58], [687, 245], [683, 419], [682, 588], [683, 763]];
const FONT = "'Liberation Sans', Arial, Helvetica, sans-serif";

function renderStick(params, api) {
  const t = api.value(0), u = api.value(1), v = api.value(2);
  const p0 = api.coord([t, 0]);
  const p1 = api.coord([t, v]);
  const k = api.size([0, 1])[1];
  return {
    type: 'line',
    shape: {x1: p0[0], y1: p0[1], x2: p0[0] + u * k, y2: p1[1]},
    style: {stroke: '#000', lineWidth: 1.3}
  };
}

const xAxes = [], yAxes = [], series = [];
stations.forEach((name, i) => {
  xAxes.push({
    gridIndex: i, type: 'value', min: 1, max: 20, interval: 1, position: 'bottom',
    axisLine: {show: true, onZero: false, lineStyle: {color: '#000', width: 2}},
    axisTick: {show: true, customValues: evenDays, length: 10, lineStyle: {color: '#000', width: 1.5}},
    axisLabel: {show: i === 4, customValues: evenDays, margin: 21, color: '#000', fontSize: 17, fontFamily: FONT},
    splitLine: {show: false}
  });
  xAxes.push({
    gridIndex: i, type: 'value', min: 1, max: 20, interval: 1, position: 'bottom',
    axisLine: {show: false, onZero: false},
    axisTick: {show: true, customValues: oddDays, length: 6, lineStyle: {color: '#000', width: 1.5}},
    axisLabel: {show: false},
    splitLine: {show: false}
  });
  yAxes.push({
    gridIndex: i, type: 'value', min: -8, max: yMaxes[i], interval: 4,
    axisLine: {show: true, onZero: false, lineStyle: {color: '#000', width: 2}},
    axisTick: {show: true, length: 5, lineStyle: {color: '#000', width: 1.5}},
    axisLabel: {color: '#000', fontSize: 17, fontFamily: FONT, margin: 9},
    splitLine: {show: false}
  });
  series.push({
    type: 'line', xAxisIndex: 2 * i, yAxisIndex: i, silent: true, z: 1,
    data: [[1, 0], [20.3, 0]], symbol: 'none',
    lineStyle: {color: '#8a8a8a', width: 1.5}
  });
  series.push({
    type: 'custom', xAxisIndex: 2 * i, yAxisIndex: i, silent: true, z: 2,
    data: stationData[i], renderItem: renderStick, clip: false
  });
});

const graphics = [
  {type: 'line', shape: {x1: 7, y1: 5, x2: 7, y2: 1048}, style: {stroke: '#000', lineWidth: 2}},
  {type: 'line', shape: {x1: 7, y1: 5, x2: 739, y2: 5}, style: {stroke: '#000', lineWidth: 2}},
  {type: 'text', x: 52, y: 471, rotation: Math.PI / 2,
   style: {text: 'Wind velocity (m/s)', fill: '#000', font: '18px ' + FONT, textAlign: 'center', textVerticalAlign: 'middle'}},
  {type: 'text', x: 400, y: 1023,
   style: {text: 'Day', fill: '#000', font: '18px ' + FONT, textAlign: 'center', textVerticalAlign: 'middle'}}
];
stations.forEach((name, i) => {
  graphics.push({type: 'text', x: namePos[i][0], y: namePos[i][1],
    style: {text: name, fill: '#000', font: '18px ' + FONT, textAlign: 'right', textVerticalAlign: 'middle'}});
});

const chart = echarts.init(document.getElementById('c'), null, {renderer: 'canvas'});
chart.setOption({
  animation: false,
  backgroundColor: '#fff',
  grid: grids,
  xAxis: xAxes,
  yAxis: yAxes,
  series: series,
  graphic: graphics
});
</script>
</body>
</html>
